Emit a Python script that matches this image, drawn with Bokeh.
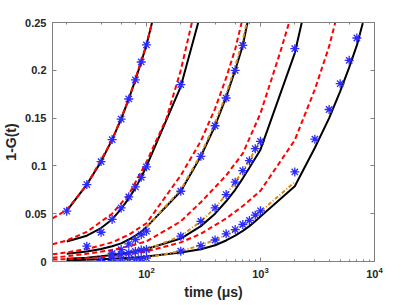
from bokeh.plotting import figure
from bokeh.models import Range1d, FixedTicker, LogAxis, LinearAxis, LogTicker
from bokeh.embed import file_html
from bokeh.resources import INLINE

# ---------------- data ----------------
y_ticks = [0, 0.05, 0.1, 0.15, 0.2, 0.25]
y_tick_labels = ["0", "0.05", "0.1", "0.15", "0.2", "0.25"]

# curve 1
c1_star_t = [20, 30, 40, 50, 60, 70, 80, 90, 100]
c1_star_y = [0.0526, 0.0805, 0.1045, 0.1275, 0.149, 0.170, 0.190, 0.2087, 0.2265]
c1_black_t = [20, 30, 40, 50, 60, 70, 80, 90, 100, 200]
c1_black_y = [0.053, 0.0805, 0.1045, 0.1275, 0.149, 0.170, 0.190, 0.2087, 0.2265, 0.37]
c1_red_t = [15, 20, 30, 50, 70, 100, 150]
c1_red_y = [0.045, 0.054, 0.080, 0.127, 0.170, 0.227, 0.31]

# curve 2
c2_star_t = [30, 40, 50, 60, 70, 80, 90, 100, 200]
c2_star_y = [0.016, 0.0306, 0.044, 0.056, 0.0676, 0.078, 0.088, 0.099, 0.185]
c2_black_t = [20, 30, 40, 50, 60, 70, 80, 90, 100, 200, 300]
c2_black_y = [0.021, 0.027, 0.035, 0.044, 0.055, 0.066, 0.077, 0.088, 0.0996, 0.183, 0.26]
c2_red_t = [15, 20, 30, 50, 70, 100, 150, 200, 300]
c2_red_y = [0.018, 0.022, 0.031, 0.05, 0.07, 0.104, 0.15, 0.2, 0.29]

# curve 3
c3_star_t = [50, 60, 70, 80, 90, 100, 200, 300, 400, 500, 600, 700]
c3_star_y = [0.0084, 0.0125, 0.0185, 0.023, 0.028, 0.0317, 0.0735, 0.110, 0.142, 0.171, 0.200, 0.226]
c3_black_t = [20, 30, 40, 50, 60, 70, 80, 90, 100, 200, 300, 400, 500, 600, 700, 800]
c3_black_y = [0.008, 0.0105, 0.013, 0.016, 0.019, 0.023, 0.027, 0.031, 0.036, 0.0735, 0.11, 0.142, 0.172, 0.200, 0.226, 0.26]
c3_orange_t = [100, 200, 300, 400, 500, 600, 700, 800]
c3_orange_y = [0.036, 0.075, 0.112, 0.145, 0.175, 0.204, 0.232, 0.262]
c3_red_t = [15, 20, 30, 50, 70, 100, 200, 300, 400, 500, 600, 700, 800]
c3_red_y = [0.0075, 0.0095, 0.013, 0.02, 0.028, 0.04, 0.09, 0.126, 0.16, 0.192, 0.222, 0.255, 0.285]

# curve 4
c4_star_t = [50, 60, 70, 80, 90, 100, 200, 300, 400, 500, 600, 700, 800, 900, 1000, 2000]
c4_star_y = [0.006, 0.0075, 0.009, 0.0105, 0.012, 0.0125, 0.0265, 0.042, 0.056, 0.070, 0.083, 0.095, 0.1055, 0.118, 0.1257, 0.2226]
c4_black_t = [20, 30, 40, 50, 60, 70, 80, 90, 100, 200, 300, 400, 500, 600, 700, 800, 900, 1000, 2000, 3000]
c4_black_y = [0.003, 0.004, 0.0055, 0.0068, 0.008, 0.0094, 0.0107, 0.012, 0.013, 0.024, 0.037, 0.05, 0.063, 0.075, 0.087, 0.098, 0.108, 0.117, 0.218, 0.31]
c4_orange_t = [100, 200, 300, 400, 500, 600, 700, 800, 900, 1000]
c4_orange_y = [0.0125, 0.0265, 0.042, 0.056, 0.070, 0.083, 0.095, 0.106, 0.117, 0.127]
c4_red_t = [15, 20, 30, 50, 70, 100, 200, 300, 500, 700, 1000, 1500, 2000]
c4_red_y = [0.004, 0.0055, 0.008, 0.012, 0.016, 0.021, 0.042, 0.062, 0.09, 0.113, 0.155, 0.22, 0.27]

# curve 5
c5_star_t = [40, 50, 60, 70, 80, 90, 100, 200, 300, 400, 500, 600, 700, 800, 900, 1000, 2000, 3000, 4000, 5000, 6000, 7000]
c5_star_y = [0.001, 0.001, 0.0015, 0.002, 0.0025, 0.003, 0.0035, 0.0108, 0.0165, 0.0225, 0.029, 0.0334, 0.0387, 0.043, 0.0485, 0.053, 0.0937, 0.128, 0.159, 0.186, 0.2104, 0.2338]
c5_black_t = [20, 30, 40, 50, 60, 70, 80, 90, 100, 200, 300, 400, 500, 600, 700, 800, 900, 1000, 2000, 3000, 4000, 5000, 6000, 7000, 8000]
c5_black_y = [0.0014, 0.0018, 0.0023, 0.0028, 0.0033, 0.0038, 0.0043, 0.0048, 0.0053, 0.0095, 0.0128, 0.017, 0.022, 0.027, 0.032, 0.037, 0.042, 0.047, 0.0787, 0.119, 0.15, 0.178, 0.203, 0.226, 0.252]
c5_orange_t = [100, 200, 300, 400, 500, 600, 700, 800, 900, 1000, 2000]
c5_orange_y = [0.004, 0.011, 0.017, 0.0225, 0.028, 0.033, 0.038, 0.043, 0.048, 0.052, 0.0833]
c5_red_t = [15, 20, 50, 100, 200, 300, 500, 700, 1000, 2000, 3000, 4000, 5000]
c5_red_y = [0.002, 0.0025, 0.005, 0.0105, 0.02, 0.029, 0.045, 0.058, 0.074, 0.127, 0.18, 0.225, 0.27]

x_min, x_max = 15, 10000
y_min, y_max = 0, 0.25

# ---------------- figure ----------------
FONT = "Liberation Sans"
AX_COL = "#808080"
TXT_COL = "#262626"

p = figure(x_axis_type="log", output_backend="svg", toolbar_location=None,
           frame_width=322, frame_height=239,
           min_border_left=46, min_border_right=32, min_border_top=22, min_border_bottom=36,
           x_range=Range1d(x_min, x_max), y_range=Range1d(y_min, y_max))
p.background_fill_color = "white"
p.border_fill_color = "white"
p.outline_line_color = AX_COL
p.xgrid.visible = False
p.ygrid.visible = False

blacks = [(c1_black_t, c1_black_y), (c2_black_t, c2_black_y), (c3_black_t, c3_black_y),
          (c4_black_t, c4_black_y), (c5_black_t, c5_black_y)]
oranges = [(c3_orange_t, c3_orange_y), (c4_orange_t, c4_orange_y), (c5_orange_t, c5_orange_y)]
reds = [(c1_red_t, c1_red_y), (c2_red_t, c2_red_y), (c3_red_t, c3_red_y),
        (c4_red_t, c4_red_y), (c5_red_t, c5_red_y)]
stars = [(c1_star_t, c1_star_y), (c2_star_t, c2_star_y), (c3_star_t, c3_star_y),
         (c4_star_t, c4_star_y), (c5_star_t, c5_star_y)]

for t, y in blacks:
    p.line(t, y, line_color="black", line_width=2)
for t, y in oranges:
    p.line(t, y, line_color="#d98b1c", line_width=2, line_dash="4 2 1 2")
for t, y in reds:
    p.line(t, y, line_color="#ff0000", line_width=2, line_dash="5 3")
for t, y in stars:
    p.scatter(t, y, marker="asterisk", size=9, line_color="#2a2aff", line_width=1.3)

def style_axis(ax, show_labels=True):
    ax.axis_line_color = AX_COL
    ax.major_tick_line_color = AX_COL
    ax.minor_tick_line_color = AX_COL
    ax.major_tick_in = 4
    ax.major_tick_out = 0
    ax.minor_tick_in = 2
    ax.minor_tick_out = 0
    ax.major_label_text_font = FONT
    ax.major_label_text_font_style = "bold"
    ax.major_label_text_color = TXT_COL
    ax.axis_label_text_font = FONT
    ax.axis_label_text_font_style = "bold"
    ax.axis_label_text_color = TXT_COL
    if show_labels:
        ax.major_label_text_font_size = "11px"
    else:
        ax.major_label_text_font_size = "1px"
        ax.major_label_text_alpha = 0
        ax.major_label_standoff = 0

xa = p.xaxis[0]
style_axis(xa)
xa.axis_label = "time (μs)"
xa.axis_label_text_font_size = "14px"
xa.axis_label_standoff = 3
xa.major_label_standoff = 5

ya = p.yaxis[0]
style_axis(ya)
ya.ticker = FixedTicker(ticks=y_ticks)
ya.minor_tick_in = 0
ya.major_label_overrides = {v: s for v, s in zip(y_ticks, y_tick_labels)}
ya.axis_label = "1-G(t)"
ya.axis_label_text_font_size = "14px"
ya.axis_label_standoff = 3
ya.major_label_standoff = 6

top = LogAxis(ticker=LogTicker())
style_axis(top, show_labels=False)
p.add_layout(top, "above")

right = LinearAxis(ticker=FixedTicker(ticks=y_ticks))
style_axis(right, show_labels=False)
right.minor_tick_in = 0
p.add_layout(right, "right")

open("out.html", "w").write(file_html(p, INLINE))
